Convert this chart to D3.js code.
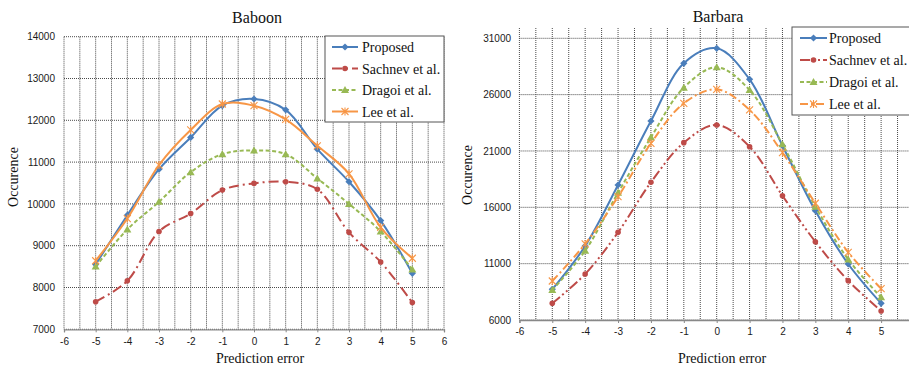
<!DOCTYPE html>
<html>
<head>
<meta charset="utf-8">
<script src="https://cdn.jsdelivr.net/npm/d3@7"></script>
<style>
  html, body { margin: 0; padding: 0; background: #fff; }
  svg { display: block; }
  .tick-label { font-family: "Liberation Sans", Arial, sans-serif; font-size: 10px; fill: #1a1a1a; }
  .serif { font-family: "Liberation Serif", "Times New Roman", serif; fill: #111; }
</style>
</head>
<body>
<svg id="chart" width="909" height="365"></svg>
<script>
// Prediction error bins shared by both panels
const errors = [-5, -4, -3, -2, -1, 0, 1, 2, 3, 4, 5];
const seriesNames = ["Proposed", "Sachnev et al.", "Dragoi et al.", "Lee et al."];

// Baboon occurrence counts
const baboonProposed = [8550, 9730, 10830, 11590, 12350, 12510, 12250, 11310, 10530, 9600, 8340];
const baboonSachnev  = [7660, 8160, 9340, 9770, 10330, 10490, 10530, 10350, 9320, 8610, 7640];
const baboonDragoi   = [8500, 9390, 10050, 10760, 11190, 11280, 11190, 10610, 10000, 9340, 8430];
const baboonLee      = [8640, 9650, 10930, 11770, 12390, 12350, 12020, 11390, 10720, 9440, 8700];

// Barbara occurrence counts
const barbaraProposed = [8720, 12570, 17980, 23660, 28780, 30110, 27360, 21470, 15700, 10970, 7480];
const barbaraSachnev  = [7480, 10080, 13780, 18220, 21740, 23310, 21380, 17030, 12950, 9490, 6800];
const barbaraDragoi   = [8660, 12150, 17300, 22210, 26620, 28430, 26410, 21590, 16060, 11380, 8010];
const barbaraLee      = [9460, 12750, 16940, 21680, 25230, 26470, 24640, 20850, 16360, 12010, 8780];

// Axis tick values
const baboonXTicks = [-6, -5, -4, -3, -2, -1, 0, 1, 2, 3, 4, 5, 6];
const barbaraXTicks = [-6, -5, -4, -3, -2, -1, 0, 1, 2, 3, 4, 5];
const baboonYTicks = [7000, 8000, 9000, 10000, 11000, 12000, 13000, 14000];
const barbaraYTicks = [6000, 11000, 16000, 21000, 26000, 31000];

const colors = ["#4a7ebb", "#be4b48", "#98b954", "#f79646"];

const svg = d3.select("#chart");

function marker(g, type, color, x, y) {
  if (type === "diamond") {
    g.append("path").attr("d", `M${x},${y - 3.6}L${x + 3.6},${y}L${x},${y + 3.6}L${x - 3.6},${y}Z`)
      .attr("fill", color);
  } else if (type === "circle") {
    g.append("circle").attr("cx", x).attr("cy", y).attr("r", 2.8).attr("fill", color);
  } else if (type === "triangle") {
    g.append("path").attr("d", `M${x},${y - 4}L${x + 4},${y + 3}L${x - 4},${y + 3}Z`)
      .attr("fill", color);
  } else if (type === "cross") {
    g.append("path").attr("d", `M${x - 3.5},${y - 3.5}L${x + 3.5},${y + 3.5}M${x - 3.5},${y + 3.5}L${x + 3.5},${y - 3.5}M${x},${y - 4}L${x},${y + 4}`)
      .attr("stroke", color).attr("stroke-width", 1.1).attr("fill", "none");
  }
}

function drawPanel(cfg) {
  const g = svg.append("g");
  const x = d3.scaleLinear().domain([-6, 6]).range([cfg.left, cfg.right]);
  const y = d3.scaleLinear().domain(cfg.yDomain).range([cfg.bottom, cfg.yTopPx]);
  const top = cfg.plotTop;

  // dotted grid: vertical every half unit, horizontal at each y tick
  const halfSteps = d3.range(-6, 6.01, 0.5);
  g.selectAll(null).data(halfSteps).join("line")
    .attr("x1", d => x(d)).attr("x2", d => x(d))
    .attr("y1", top).attr("y2", cfg.bottom)
    .attr("stroke", "#4a4a4a").attr("stroke-width", 1).attr("stroke-dasharray", "1,1");
  g.selectAll(null).data(cfg.yTicks).join("line")
    .attr("x1", cfg.left).attr("x2", cfg.right)
    .attr("y1", d => y(d)).attr("y2", d => y(d))
    .attr("stroke", "#4a4a4a").attr("stroke-width", 1).attr("stroke-dasharray", "1,1");

  // bottom axis
  const xAxis = d3.axisBottom(x).tickValues(cfg.xTicks).tickSize(3).tickFormat(d3.format("d"));
  const xa = g.append("g").attr("transform", `translate(0,${cfg.bottom})`).call(xAxis);
  xa.select(".domain").attr("stroke", "#888").attr("stroke-width", 1.3);
  xa.selectAll(".tick line").attr("stroke", "#888");
  xa.selectAll(".tick text").attr("class", "tick-label").attr("dy", null).attr("y", cfg.xLabelY - cfg.bottom)
    .attr("dominant-baseline", "middle").text(d => d < 0 ? "-" + Math.abs(d) : d);

  // left axis labels
  const yAxis = d3.axisLeft(y).tickValues(cfg.yTicks).tickSize(0).tickPadding(cfg.left - cfg.yLabelX).tickFormat(d3.format("d"));
  const ya = g.append("g").attr("transform", `translate(${cfg.left},0)`).call(yAxis);
  ya.select(".domain").remove();
  ya.selectAll(".tick text").attr("class", "tick-label");

  // series
  const line = d3.line().x((d, i) => x(errors[i])).y(d => y(d)).curve(d3.curveCatmullRom.alpha(0.5));
  cfg.series.forEach((s, k) => {
    g.append("path").datum(s.values).attr("d", line)
      .attr("fill", "none").attr("stroke", colors[k]).attr("stroke-width", 2)
      .attr("stroke-dasharray", s.dash || null);
    s.values.forEach((v, i) => marker(g, s.marker, colors[k], x(errors[i]), y(v)));
  });

  // titles
  g.append("text").attr("class", "serif").attr("x", cfg.titleX).attr("y", cfg.titleY)
    .attr("text-anchor", "middle").attr("font-size", 16).text(cfg.title);
  g.append("text").attr("class", "serif").attr("x", cfg.xTitleX).attr("y", 363)
    .attr("text-anchor", "middle").attr("font-size", 14).text("Prediction error");
  g.append("text").attr("class", "serif")
    .attr("transform", `translate(${cfg.yTitleX},${cfg.yTitleY}) rotate(-90)`)
    .attr("text-anchor", "middle").attr("font-size", 14).text("Occurence");

  // legend
  const lg = cfg.legend;
  g.append("rect").attr("x", lg.x).attr("y", lg.y).attr("width", lg.w).attr("height", lg.h)
    .attr("fill", "#fff").attr("stroke", "#555").attr("stroke-width", 1);
  cfg.series.forEach((s, k) => {
    const ly = lg.y + lg.first + k * lg.step;
    g.append("line").attr("x1", lg.x + lg.lx0).attr("x2", lg.x + lg.lx1).attr("y1", ly).attr("y2", ly)
      .attr("stroke", colors[k]).attr("stroke-width", 2).attr("stroke-dasharray", s.dash || null);
    marker(g, s.marker, colors[k], lg.x + (lg.lx0 + lg.lx1) / 2, ly);
    g.append("text").attr("class", "serif").attr("x", lg.x + lg.tx).attr("y", ly + 5)
      .attr("font-size", 14).text(seriesNames[k]);
  });
}

drawPanel({
  title: "Baboon", titleX: 257, titleY: 23,
  left: 64, right: 444, bottom: 329.3, plotTop: 36.7,
  yDomain: [7000, 14000], yTopPx: 36.7, yTicks: baboonYTicks, xTicks: baboonXTicks,
  yLabelX: 55, xLabelY: 342, xTitleX: 260, yTitleX: 18, yTitleY: 177,
  series: [
    { values: baboonProposed, marker: "diamond" },
    { values: baboonSachnev, marker: "circle", dash: "10,4,2,4" },
    { values: baboonDragoi, marker: "triangle", dash: "4,2.5" },
    { values: baboonLee, marker: "cross" }
  ],
  legend: { x: 325, y: 36, w: 119, h: 86, first: 11, step: 21.5, lx0: 7, lx1: 33, tx: 37 }
});

drawPanel({
  title: "Barbara", titleX: 718, titleY: 22,
  left: 519.4, right: 914, bottom: 320, plotTop: 28,
  yDomain: [6000, 31000], yTopPx: 38.3, yTicks: barbaraYTicks, xTicks: barbaraXTicks,
  yLabelX: 511, xLabelY: 332, xTitleX: 722, yTitleX: 472, yTitleY: 175,
  series: [
    { values: barbaraProposed, marker: "diamond" },
    { values: barbaraSachnev, marker: "circle", dash: "10,3,2,3,2,3" },
    { values: barbaraDragoi, marker: "triangle", dash: "4,2.5" },
    { values: barbaraLee, marker: "cross", dash: "8,3,2,3" }
  ],
  legend: { x: 792, y: 27, w: 130, h: 88, first: 11, step: 22, lx0: 8, lx1: 35, tx: 37 }
});
</script>
</body>
</html>
